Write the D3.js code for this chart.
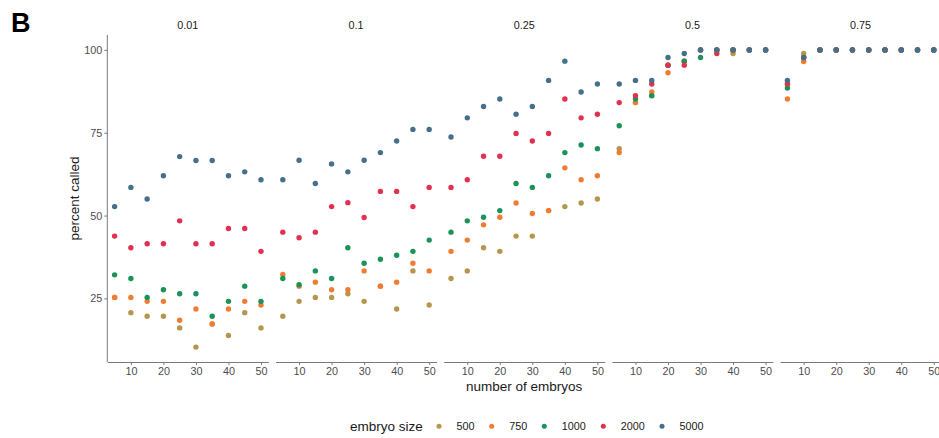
<!DOCTYPE html>
<html>
<head>
<meta charset="utf-8">
<script src="https://cdn.jsdelivr.net/npm/d3@7"></script>
<style>
  html, body { margin: 0; padding: 0; background: #fff; }
  svg { display: block; font-family: "Liberation Sans", Arial, Helvetica, sans-serif; }
</style>
</head>
<body>
<svg id="chart" width="939" height="438"></svg>
<script>
// ---------- data ----------
const facets = ["0.01", "0.1", "0.25", "0.5", "0.75"];
const sizes = [500, 750, 1000, 2000, 5000];
const embryos = [5, 10, 15, 20, 25, 30, 35, 40, 45, 50];
const xTicks = [10, 20, 30, 40, 50];
const yTicks = [25, 50, 75, 100];
const colors = ["#b5964b", "#f07c31", "#1a9259", "#e2304d", "#44708a"];

// rows follow sizes (500, 750, 1000, 2000, 5000)
const p001 = [
  [25.3, 20.7, 19.6, 19.6, 16.1, 10.3, 17.3, 13.8, 20.7, 16.1],
  [25.3, 25.3, 24.1, 24.1, 18.4, 21.8, 17.3, 21.8, 24.1, 23.0],
  [32.1, 31.0, 25.3, 27.6, 26.4, 26.4, 19.6, 24.1, 28.7, 24.1],
  [43.8, 40.3, 41.5, 41.5, 48.4, 41.5, 41.5, 46.1, 46.1, 39.2],
  [52.7, 58.5, 55.0, 62.0, 67.8, 66.6, 66.6, 62.0, 63.2, 60.8]
];
const p01 = [
  [19.6, 24.1, 25.3, 25.3, 26.4, 24.1, 28.7, 21.8, 33.3, 23.0],
  [32.2, 28.7, 29.9, 27.6, 27.6, 33.3, 28.7, 29.9, 35.6, 33.3],
  [31.0, 29.1, 33.3, 31.0, 40.3, 35.6, 36.8, 38.0, 39.2, 42.6],
  [45.0, 43.3, 45.0, 52.7, 53.9, 49.4, 57.3, 57.3, 52.7, 58.5],
  [60.8, 66.7, 59.7, 65.6, 63.2, 66.7, 69.0, 72.5, 76.0, 76.0]
];
const p025 = [
  [31.0, 33.3, 40.3, 39.2, 43.8, 43.8, 51.5, 52.7, 53.8, 55.0],
  [39.2, 42.6, 47.2, 49.5, 53.8, 50.6, 51.5, 64.4, 60.8, 62.0],
  [45.0, 48.4, 49.5, 51.5, 59.7, 58.5, 62.0, 69.0, 71.3, 70.2],
  [58.5, 60.8, 67.9, 67.9, 74.8, 72.5, 74.8, 85.2, 79.5, 80.6],
  [73.7, 79.5, 82.9, 85.2, 80.6, 82.9, 90.8, 96.6, 87.3, 89.7]
];
const p05 = [
  [70.2, 84.1, 86.2, 95.4, 96.6, 100, 100, 98.9, 100, 100],
  [69.0, 84.1, 87.3, 93.1, 96.6, 100, 100, 100, 100, 100],
  [77.1, 85.2, 86.2, 95.4, 96.6, 97.7, 100, 100, 100, 100],
  [84.1, 86.2, 89.7, 95.4, 95.4, 100, 98.9, 100, 100, 100],
  [89.7, 90.8, 90.8, 97.7, 98.9, 100, 100, 100, 100, 100]
];
const p075 = [
  [89.7, 98.9, 100, 100, 100, 100, 100, 100, 100, 100],
  [85.2, 96.5, 100, 100, 100, 100, 100, 100, 100, 100],
  [88.5, 97.7, 100, 100, 100, 100, 100, 100, 100, 100],
  [89.7, 97.7, 100, 100, 100, 100, 100, 100, 100, 100],
  [90.8, 97.7, 100, 100, 100, 100, 100, 100, 100, 100]
];
const facetValues = [p001, p01, p025, p05, p075];

// ---------- layout ----------
const svg = d3.select("#chart");
const panelLeft0 = 107.3, panelW = 161, panelStep = 168.2;
const plotTop = 35, plotBottom = 362;
const y = d3.scaleLinear().domain([5.8, 104.5]).range([plotBottom, plotTop]);
const axisColor = "#7a7a7a";
const tickTextColor = "#4d4d4d";

// panel label "B"
svg.append("text").attr("x", 11).attr("y", 31.5)
  .attr("font-size", 27).attr("font-weight", "bold").attr("fill", "#000").text("B");

// y axis
const yAxis = svg.append("g").attr("transform", `translate(${panelLeft0},0)`)
  .call(d3.axisLeft(y).tickValues(yTicks).tickSize(3).tickPadding(2).tickSizeOuter(0));
yAxis.select(".domain").attr("stroke", axisColor).attr("d", `M0,${plotTop}V${plotBottom}`);
yAxis.selectAll(".tick line").attr("stroke", axisColor);
yAxis.selectAll(".tick text").attr("fill", tickTextColor).attr("font-size", 10.8)
  .attr("font-family", "'Liberation Sans', Arial, sans-serif");

svg.append("text")
  .attr("transform", `translate(79,${(plotTop + plotBottom) / 2}) rotate(-90)`)
  .attr("text-anchor", "middle").attr("font-size", 13.5).attr("fill", "#1a1a1a")
  .text("percent called");

facets.forEach((f, i) => {
  const left = panelLeft0 + i * panelStep;
  const x = d3.scaleLinear().domain([2.75, 52.25]).range([left, left + panelW]);

  // strip label
  svg.append("text").attr("x", left + panelW / 2).attr("y", 29)
    .attr("text-anchor", "middle").attr("font-size", 10.8).attr("fill", "#1a1a1a").text(f);

  // x axis
  const g = svg.append("g").attr("transform", `translate(0,${plotBottom})`)
    .call(d3.axisBottom(x).tickValues(xTicks).tickSize(3).tickPadding(2).tickSizeOuter(0));
  g.select(".domain").attr("stroke", axisColor);
  g.selectAll(".tick line").attr("stroke", axisColor);
  g.selectAll(".tick text").attr("fill", tickTextColor).attr("font-size", 10.8)
    .attr("font-family", "'Liberation Sans', Arial, sans-serif");

  // points (draw in size order so larger sizes are on top)
  const vals = facetValues[i];
  sizes.forEach((s, si) => {
    svg.append("g").selectAll("circle")
      .data(embryos.map((e, k) => ({ e, v: vals[si][k] })))
      .join("circle")
      .attr("cx", d => x(d.e))
      .attr("cy", d => y(d.v))
      .attr("r", 2.7)
      .attr("fill", colors[si]);
  });
});

// x axis title
svg.append("text").attr("x", (panelLeft0 + panelLeft0 + 4 * panelStep + panelW) / 2).attr("y", 390.5)
  .attr("text-anchor", "middle").attr("font-size", 13.5).attr("fill", "#1a1a1a")
  .text("number of embryos");

// legend
const legend = svg.append("g");
legend.append("text").attr("x", 350).attr("y", 431).attr("font-size", 13.5)
  .attr("fill", "#1a1a1a").text("embryo size");
const legendDotX = [439, 491.7, 544.3, 603.3, 662];
sizes.forEach((s, si) => {
  legend.append("circle").attr("cx", legendDotX[si]).attr("cy", 426.3)
    .attr("r", 2.5).attr("fill", colors[si]);
  legend.append("text").attr("x", legendDotX[si] + 17.5).attr("y", 430.2)
    .attr("font-size", 10.8).attr("fill", "#1a1a1a").text(s);
});
</script>
</body>
</html>
